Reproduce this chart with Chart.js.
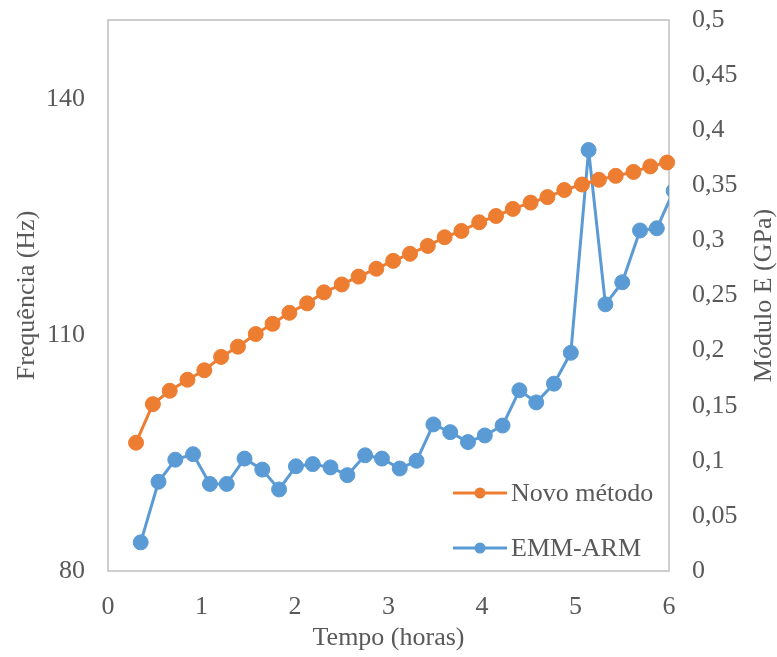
<!DOCTYPE html>
<html>
<head>
<meta charset="utf-8">
<script src="https://cdn.jsdelivr.net/npm/chart.js@4.4.1/dist/chart.umd.min.js"></script>
<style>
  html, body { margin: 0; padding: 0; background: #ffffff; }
  #wrap { width: 777px; height: 657px; }
</style>
</head>
<body>
<div id="wrap"><canvas id="c" width="777" height="657"></canvas></div>
<script>
// Tempo (horas) e frequência do novo método
const timeNovo = [0.30, 0.48, 0.66, 0.85, 1.03, 1.21, 1.39, 1.58, 1.76, 1.94, 2.13, 2.31, 2.50, 2.68, 2.87, 3.05,
                  3.23, 3.42, 3.60, 3.78, 3.97, 4.15, 4.33, 4.52, 4.70, 4.88, 5.07, 5.25, 5.43, 5.62, 5.80, 5.98];
const freqNovo = [96.3, 101.2, 102.9, 104.3, 105.5, 107.2, 108.5, 110.1, 111.4, 112.8, 114.0, 115.4, 116.4, 117.4, 118.4, 119.4,
                  120.3, 121.3, 122.4, 123.2, 124.3, 125.1, 126.0, 126.8, 127.5, 128.4, 129.1, 129.7, 130.2, 130.7, 131.4, 131.9];

// Tempo (horas) e módulo E do EMM-ARM
const timeEmm = [0.35, 0.54, 0.72, 0.91, 1.09, 1.27, 1.46, 1.65, 1.83, 2.01, 2.19, 2.38, 2.56, 2.75, 2.93, 3.12,
                 3.30, 3.48, 3.66, 3.85, 4.03, 4.22, 4.40, 4.58, 4.77, 4.95, 5.14, 5.32, 5.50, 5.69, 5.87, 6.05];
const moduloEmm = [0.026, 0.081, 0.101, 0.106, 0.079, 0.079, 0.102, 0.092, 0.074, 0.095, 0.097, 0.094, 0.087, 0.105, 0.102, 0.093,
                   0.100, 0.133, 0.126, 0.117, 0.123, 0.132, 0.164, 0.153, 0.170, 0.198, 0.382, 0.242, 0.262, 0.309, 0.311, 0.345];

// Marcas dos eixos
const xTicks = [0, 1, 2, 3, 4, 5, 6];
const leftTicks = [80, 110, 140];
const rightTicks = [0, 0.05, 0.1, 0.15, 0.2, 0.25, 0.3, 0.35, 0.4, 0.45, 0.5];

const seriesNames = ['Novo método', 'EMM-ARM'];
const axisTitles = { x: 'Tempo (horas)', left: 'Frequência (Hz)', right: 'Módulo E (GPa)' };

const ORANGE = '#ED7D31';
const BLUE = '#5B9BD5';
const TEXT = '#595959';
const FONT = 'Liberation Serif, Times New Roman, serif';
const FSIZE = 26;

const toPoints = (xs, ys) => xs.map((x, i) => ({ x: x, y: ys[i] }));
const setTicks = (arr) => (scale) => { scale.ticks = arr.map(v => ({ value: v })); };
const fmtComma = (v) => String(v).replace('.', ',');
// Eixos verticais com largura fixa e sem folga extra acima/abaixo
const fitVertical = (s) => { s.width = 108; s.paddingTop = 16; s.paddingBottom = 16; };

// Moldura cinza da área do gráfico
const plotFrame = {
  id: 'plotFrame',
  beforeDatasetsDraw(chart) {
    const { ctx, chartArea: a } = chart;
    ctx.save();
    ctx.strokeStyle = '#BFBFBF';
    ctx.lineWidth = 1.5;
    ctx.strokeRect(a.left, a.top, a.right - a.left, a.bottom - a.top);
    ctx.restore();
  }
};

// Títulos verticais dos dois eixos y (ambos lidos de baixo para cima)
const yTitles = {
  id: 'yTitles',
  afterDraw(chart) {
    const { ctx, chartArea: a } = chart;
    const cy = (a.top + a.bottom) / 2;
    ctx.save();
    ctx.fillStyle = TEXT;
    ctx.font = FSIZE + 'px ' + FONT;
    ctx.textAlign = 'center';
    ctx.textBaseline = 'middle';
    [[27, axisTitles.left], [chart.width - 13, axisTitles.right]].forEach(([x, t]) => {
      ctx.save();
      ctx.translate(x, cy);
      ctx.rotate(-Math.PI / 2);
      ctx.fillText(t, 0, 0);
      ctx.restore();
    });
    ctx.restore();
  }
};

// Legenda dentro da área do gráfico, canto inferior direito
const insideLegend = {
  id: 'insideLegend',
  afterDraw(chart) {
    const { ctx, chartArea: a } = chart;
    const x0 = a.right - 216;
    const rows = [a.bottom - 78, a.bottom - 23];
    ctx.save();
    chart.data.datasets.forEach((ds, i) => {
      const y = rows[i];
      ctx.strokeStyle = ds.borderColor;
      ctx.lineWidth = 3;
      ctx.beginPath();
      ctx.moveTo(x0, y);
      ctx.lineTo(x0 + 54, y);
      ctx.stroke();
      ctx.fillStyle = ds.borderColor;
      ctx.beginPath();
      ctx.arc(x0 + 27, y, 5.5, 0, Math.PI * 2);
      ctx.fill();
      ctx.fillStyle = TEXT;
      ctx.font = FSIZE + 'px ' + FONT;
      ctx.textAlign = 'left';
      ctx.textBaseline = 'middle';
      ctx.fillText(ds.label, x0 + 58, y + 1);
    });
    ctx.restore();
  }
};

const tickFont = { family: FONT, size: FSIZE };

new Chart(document.getElementById('c'), {
  type: 'scatter',
  data: {
    datasets: [
      {
        label: seriesNames[0],
        data: toPoints(timeNovo, freqNovo),
        yAxisID: 'yL',
        showLine: true,
        borderColor: ORANGE,
        backgroundColor: ORANGE,
        borderWidth: 3,
        borderJoinStyle: 'round',
        pointRadius: 7.5,
        pointBorderWidth: 1,
        pointHoverRadius: 7.5,
        tension: 0,
        clip: false
      },
      {
        label: seriesNames[1],
        data: toPoints(timeEmm, moduloEmm),
        yAxisID: 'yR',
        showLine: true,
        borderColor: BLUE,
        backgroundColor: BLUE,
        borderWidth: 3,
        borderJoinStyle: 'round',
        pointRadius: 7.5,
        pointBorderWidth: 1,
        pointHoverRadius: 7.5,
        tension: 0,
        clip: { left: false, top: false, right: 0, bottom: false }
      }
    ]
  },
  options: {
    responsive: false,
    animation: false,
    devicePixelRatio: 1,
    layout: { padding: { top: 20, left: 0, right: 0, bottom: 0 } },
    plugins: {
      legend: { display: false },
      tooltip: { enabled: false }
    },
    scales: {
      x: {
        type: 'linear',
        position: 'bottom',
        min: 0,
        max: 6,
        afterBuildTicks: setTicks(xTicks),
        afterFit: (s) => { s.height = 86; },
        grid: { display: false, drawTicks: false },
        border: { display: false },
        ticks: { color: TEXT, font: tickFont, padding: 21, maxRotation: 0 },
        title: {
          display: true,
          text: axisTitles.x,
          color: TEXT,
          font: { family: FONT, size: FSIZE, lineHeight: 1.2 },
          padding: { top: 0, bottom: 3 }
        }
      },
      yL: {
        type: 'linear',
        position: 'left',
        min: 80,
        max: 150,
        afterBuildTicks: setTicks(leftTicks),
        afterFit: fitVertical,
        grid: { display: false, drawTicks: false },
        border: { display: false },
        ticks: { color: TEXT, font: tickFont, padding: 23 }
      },
      yR: {
        type: 'linear',
        position: 'right',
        min: 0,
        max: 0.5,
        afterBuildTicks: setTicks(rightTicks),
        afterFit: fitVertical,
        grid: { display: false, drawTicks: false },
        border: { display: false },
        ticks: { color: TEXT, font: tickFont, padding: 23, callback: fmtComma }
      }
    }
  },
  plugins: [plotFrame, yTitles, insideLegend]
});
</script>
</body>
</html>
